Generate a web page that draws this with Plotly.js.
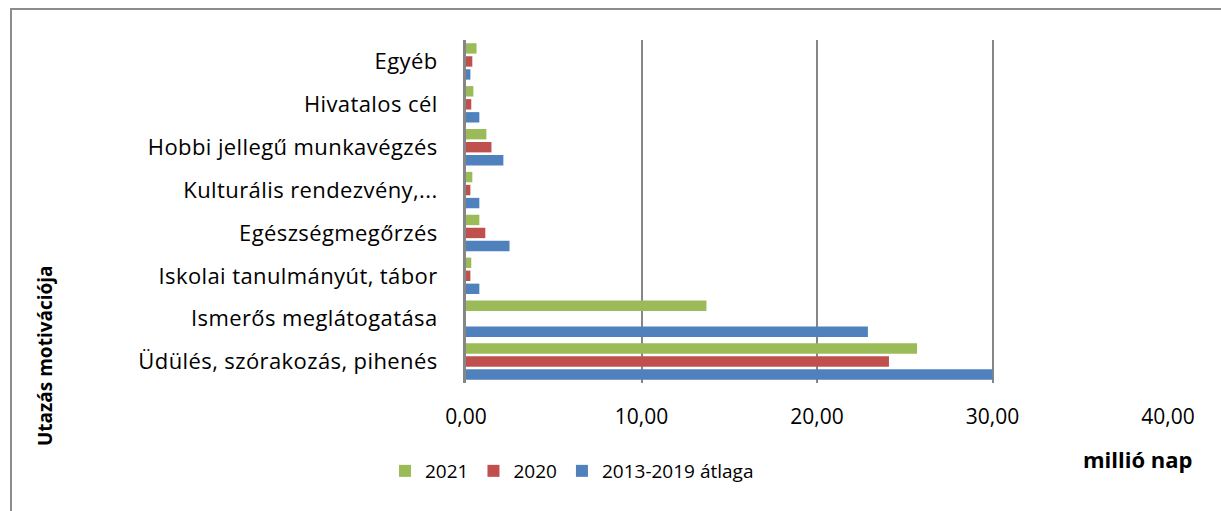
<!DOCTYPE html>
<html>
<head>
<meta charset="utf-8">
<script src="https://cdn.plot.ly/plotly-3.0.1.min.js"></script>
<style>
html,body{margin:0;padding:0;background:#fff;}
#wrap{position:relative;width:1221px;height:511px;}
#chart{position:absolute;left:0;top:0;width:1221px;height:511px;}
#chart .ytick text{letter-spacing:0.4px;}
#frame{position:absolute;left:10px;top:8px;width:1230px;height:520px;border-left:2px solid #8c8c8c;border-top:2px solid #8c8c8c;pointer-events:none;}
</style>
</head>
<body>
<div id="wrap"><div id="chart"></div><div id="frame"></div></div>
<script>
const categories = [
  "Egyéb",
  "Hivatalos cél",
  "Hobbi jellegű munkavégzés",
  "Kulturális rendezvény,...",
  "Egészségmegőrzés",
  "Iskolai tanulmányút, tábor",
  "Ismerős meglátogatása",
  "Üdülés, szórakozás, pihenés"
];
const seriesNames = ["2021", "2020", "2013-2019 átlaga"];
const values2021 = [0.6, 0.42, 1.16, 0.36, 0.76, 0.3, 13.7, 25.7];
const values2020 = [0.36, 0.3, 1.45, 0.25, 1.1, 0.25, null, 24.1];
const valuesAvg  = [0.25, 0.76, 2.13, 0.76, 2.48, 0.76, 22.9, 30.0];
const colors = ["#9bbb59", "#c0504d", "#4f81bd"];
const xTicks = [0, 10, 20, 30, 40];

const font = "Open Sans, Liberation Sans, sans-serif";
const data = [values2021, values2020, valuesAvg].map((v, i) => ({
  type: "bar",
  orientation: "h",
  name: seriesNames[i],
  y: categories,
  x: v,
  marker: {color: colors[i]},
  hoverinfo: "x+name"
}));

const L = 466, R = 1168, T = 40, B = 383;
const W = R - L, H = B - T;

const layout = {
  width: 1221, height: 511,
  margin: {l: L, r: 1221 - R, t: T, b: 511 - B},
  paper_bgcolor: "#fff", plot_bgcolor: "#fff",
  separators: ",.",
  barmode: "group",
  bargap: 0.09,
  bargroupgap: 0.2,
  font: {family: font, color: "#000", size: 18},
  xaxis: {
    range: [0, 40],
    tickvals: xTicks,
    tickformat: ".2f",
    showgrid: true, gridcolor: "#868686", gridwidth: 2,
    zeroline: false,
    showline: false,
    ticks: "outside", ticklen: 15, tickcolor: "rgba(0,0,0,0)",
    tickfont: {size: 21, family: font},
    fixedrange: true
  },
  yaxis: {
    autorange: "reversed",
    type: "category",
    showline: true, linecolor: "#868686", linewidth: 3,
    ticks: "outside", ticklen: 21, tickcolor: "rgba(0,0,0,0)",
    tickfont: {size: 22, family: font},
    showgrid: false,
    fixedrange: true
  },
  legend: {
    orientation: "h",
    x: (385 - L) / W, xref: "paper", xanchor: "left",
    y: (B - 452) / H, yref: "paper", yanchor: "top",
    font: {size: 19, family: font},
    bgcolor: "rgba(0,0,0,0)"
  },
  annotations: [
    {text: "<b>Utazás motivációja</b>", xref: "paper", yref: "paper",
     x: (45 - L) / W, y: (B - 356) / H, textangle: -90,
     showarrow: false, font: {size: 19, family: font}, xanchor: "center", yanchor: "middle"},
    {text: "<b>millió nap</b>", xref: "paper", yref: "paper",
     x: (1137 - L) / W, y: (B - 459) / H,
     showarrow: false, font: {size: 22, family: font}, xanchor: "center", yanchor: "middle"}
  ],
  showlegend: true
};

Plotly.newPlot("chart", data, layout, {displayModeBar: false, staticPlot: true});
</script>
</body>
</html>
